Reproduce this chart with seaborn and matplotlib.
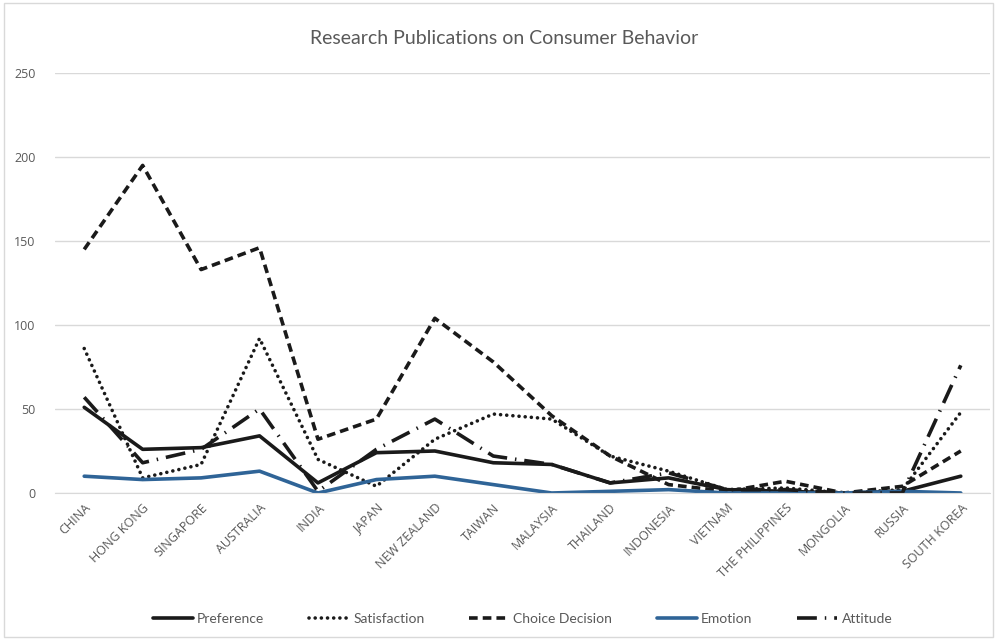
import numpy as np
import pandas as pd
import matplotlib
matplotlib.use("Agg")
import matplotlib.pyplot as plt
import seaborn as sns
from matplotlib.patches import Rectangle

# chart data
countries = ["CHINA", "HONG KONG", "SINGAPORE", "AUSTRALIA", "INDIA", "JAPAN",
             "NEW ZEALAND", "TAIWAN", "MALAYSIA", "THAILAND", "INDONESIA",
             "VIETNAM", "THE PHILIPPINES", "MONGOLIA", "RUSSIA", "SOUTH KOREA"]
preference = [51, 26, 27, 34, 6, 24, 25, 18, 17, 6, 9, 2, 1, 0, 1, 10]
satisfaction = [86, 9, 17, 92, 20, 4, 32, 47, 44, 22, 13, 2, 3, 0, 2, 48]
choice_decision = [145, 195, 133, 146, 32, 44, 104, 78, 46, 22, 5, 1, 7, 0, 4, 25]
emotion = [10, 8, 9, 13, 0, 8, 10, 5, 0, 1, 2, 0, 0, 0, 1, 0]
attitude = [57, 18, 26, 50, 1, 26, 44, 22, 17, 6, 12, 2, 2, 0, 0, 76]

series = ["Preference", "Satisfaction", "Choice Decision", "Emotion", "Attitude"]
values = [preference, satisfaction, choice_decision, emotion, attitude]

df = pd.DataFrame({"pos": np.arange(len(countries))})
for name, vals in zip(series, values):
    df[name] = vals

sns.set_style("white")
plt.rcParams["font.family"] = ["Open Sans", "DejaVu Sans"]

fig = plt.figure(figsize=(9.97, 6.4), dpi=100)
ax = fig.add_axes([55 / 997, 147 / 640, 935 / 997, 420 / 640])

styles = {
    "Preference": dict(color="#1a1a1a", dashes=None),
    "Satisfaction": dict(color="#1a1a1a", dashes=(0.01, 1.7)),
    "Choice Decision": dict(color="#1a1a1a", dashes=(2.4, 1.4)),
    "Emotion": dict(color="#2f6497", dashes=None),
    "Attitude": dict(color="#1a1a1a", dashes=(5.5, 2.2, 0.4, 2.2)),
}

for name in series:
    st = styles[name]
    line_ax = sns.lineplot(data=df, x="pos", y=name, ax=ax, color=st["color"],
                           lw=2.6, label=name)
    ln = line_ax.lines[-1]
    if st["dashes"] is not None:
        ln.set_dashes(st["dashes"])
        if name == "Satisfaction":
            ln.set_dash_capstyle("round")

ax.set_xlim(-0.5, len(countries) - 0.5)
ax.set_ylim(0, 250)
ax.set_yticks(range(0, 251, 50))
ax.yaxis.grid(True, color="#d9d9d9", lw=1)
ax.set_axisbelow(True)
for s in ["top", "right", "left"]:
    ax.spines[s].set_visible(False)
ax.spines["bottom"].set_color("#d9d9d9")
ax.set_xlabel("")
ax.set_ylabel("")
ax.set_xticks(df["pos"])
ax.set_xticklabels(countries, rotation=45, ha="right", rotation_mode="anchor",
                   fontsize=9, color="#595959")
ax.tick_params(axis="y", labelsize=9, labelcolor="#595959", length=0, pad=14)
ax.tick_params(axis="x", length=0, pad=6)

fig.text(0.506, 0.94, "Research Publications on Consumer Behavior",
         ha="center", va="center", fontsize=14, color="#595959", family="Lato")

leg = ax.legend(loc="center", bbox_to_anchor=(0.5, -0.30), ncol=5, frameon=False,
                fontsize=10, handlelength=2.9, columnspacing=3.2, handletextpad=0.3)
for t in leg.get_texts():
    t.set_color("#595959")
    t.set_family("Lato")

fig.patches.append(Rectangle((0.004, 0.004), 0.992, 0.992, transform=fig.transFigure,
                             fill=False, edgecolor="#d9d9d9", lw=1))

fig.savefig("out.png", dpi=100)
